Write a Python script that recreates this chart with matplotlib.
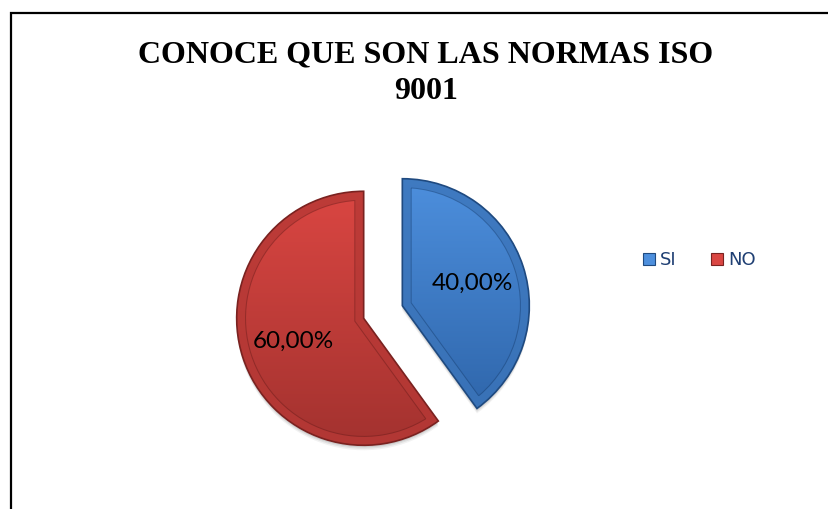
import numpy as np
import matplotlib
matplotlib.use('Agg')
import matplotlib.pyplot as plt
from matplotlib.patches import Patch, Rectangle, Wedge
from matplotlib.colors import LinearSegmentedColormap

labels = ['SI', 'NO']
values = [40.0, 60.0]
title = 'CONOCE QUE SON LAS NORMAS ISO\n9001'

top_colors = ['#4d8fdd', '#da4642']
bottom_colors = ['#2c62a6', '#a3322f']
edge_colors = ['#1f4a80', '#7a2220']

W, H = 829, 509
fig = plt.figure(figsize=(W/100, H/100), dpi=100)

# frame round the chart area (right and bottom sides fall outside)
fig.patches.append(Rectangle((11/W, -0.1), 1.2, (H-13)/H + 0.1, transform=fig.transFigure,
                             fill=False, edgecolor='black', linewidth=1.6))

fig.text(426/W, 1-73/H, title, ha='center', va='center', fontsize=23,
         fontweight='bold', family='Liberation Serif', linespacing=1.32)

# pie axes: 1 data unit = 127 px, centre at (383, 312)
R = 127.0
cx, cy = 383, H-312
half = 160
ax = fig.add_axes([(cx-half)/W, (cy-half)/H, 2*half/W, 2*half/H])

wedges, texts, autotexts = ax.pie(values, startangle=90, counterclock=False,
                                  explode=[0.16, 0.16], radius=1.0,
                                  autopct=lambda p: f'{p:.2f}%'.replace('.', ','),
                                  pctdistance=0.58, frame=False,
                                  textprops=dict(fontsize=17.5, family='Lato', color='black'))
ax.set_xlim(-half/R, half/R)
ax.set_ylim(-half/R, half/R)
ax.axis('off')

grad = np.linspace(0, 1, 256).reshape(-1, 1)
for i, w in enumerate(wedges):
    w.set_facecolor('none')
    w.set_edgecolor('none')
    # soft shadow
    for k, a in [(5, 0.05), (3.5, 0.07), (2, 0.09)]:
        ax.add_patch(Wedge((w.center[0], w.center[1]-k/R), w.r, w.theta1, w.theta2,
                           facecolor='black', edgecolor='none', alpha=a, zorder=0.5))
    cmap = LinearSegmentedColormap.from_list('g%d' % i, [bottom_colors[i], top_colors[i]])
    x0, y0 = w.center
    im = ax.imshow(grad, cmap=cmap, origin='lower', aspect='auto',
                   extent=[x0-1, x0+1, y0-1, y0+1], zorder=1)
    im.set_clip_path(w)
    # bevel band inside the edge
    for lw, col, al in [(13.5, edge_colors[i], 0.6), (12.0, top_colors[i], 0.5)]:
        band = Wedge(w.center, w.r, w.theta1, w.theta2, facecolor='none',
                     edgecolor=col, linewidth=lw, alpha=al, zorder=2, joinstyle='miter')
        ax.add_patch(band)
        band.set_clip_path(w)
    ax.add_patch(Wedge(w.center, w.r, w.theta1, w.theta2, facecolor='none',
                       edgecolor=edge_colors[i], linewidth=1.2, zorder=3, joinstyle='miter'))

for t in autotexts:
    t.set_zorder(5)

handles = [Patch(facecolor=c, edgecolor=e, linewidth=0.8) for c, e in zip(top_colors, edge_colors)]
leg = fig.legend(handles, labels, ncol=2, loc='center left',
                 bbox_to_anchor=(643/W, 1-260/H), frameon=False,
                 prop=dict(family='DejaVu Sans', size=13), handlelength=0.65, handleheight=0.65,
                 handletextpad=0.3, columnspacing=1.9, borderpad=0, borderaxespad=0)
for t in leg.get_texts():
    t.set_color('#1f3f73')

fig.savefig('out.png', dpi=100, facecolor='white')
